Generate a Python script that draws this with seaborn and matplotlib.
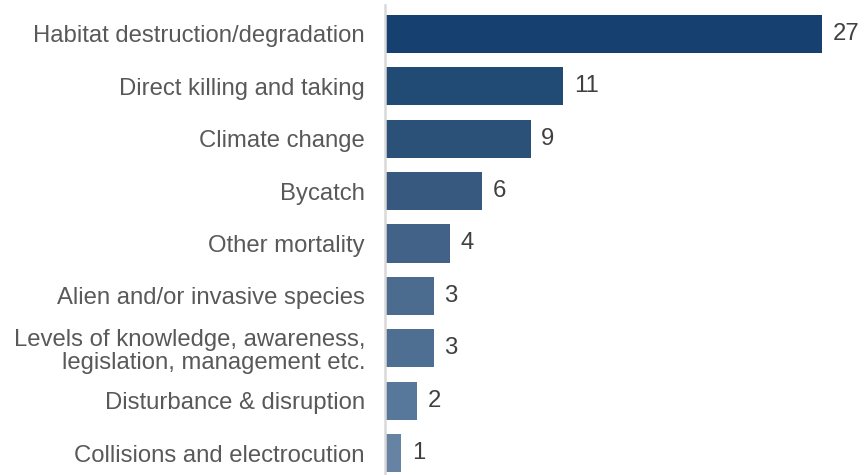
import matplotlib
matplotlib.use("Agg")
import matplotlib.pyplot as plt
import seaborn as sns
import pandas as pd

threats = [
    "Habitat destruction/degradation",
    "Direct killing and taking",
    "Climate change",
    "Bycatch",
    "Other mortality",
    "Alien and/or invasive species",
    "Levels of knowledge, awareness,\nlegislation, management etc.",
    "Disturbance & disruption",
    "Collisions and electrocution",
]
counts = [27, 11, 9, 6, 4, 3, 3, 2, 1]
bar_colors = ["#16406f", "#214a75", "#2c5179", "#37597f", "#426387",
              "#4b6b8f", "#4e6e92", "#57789b", "#6683a3"]

df = pd.DataFrame({"threat": threats, "count": counts})

sns.set_theme(style="white")
plt.rcParams["font.family"] = ["Liberation Sans", "DejaVu Sans"]

fig = plt.figure(figsize=(8.67, 4.75), dpi=100)
ax = fig.add_axes([385 / 867, 0, 1 - 385 / 867, 1 - 5 / 475])

sns.barplot(data=df, x="count", y="threat", hue="threat", palette=bar_colors,
            legend=False, width=0.73, saturation=1, linewidth=0, ax=ax, orient="h")

ax.set_xlim(0, 29.75)
ax.set_ylim(8.42, -0.553)
ax.set_xlabel("")
ax.set_ylabel("")
ax.set_xticks([])

for s in ["top", "right", "bottom"]:
    ax.spines[s].set_visible(False)
ax.spines["left"].set_color("#d9d9d9")
ax.spines["left"].set_linewidth(1.8)

ax.tick_params(axis="y", length=0, pad=14.4, labelsize=17.2, labelcolor="#595959")
for lbl in ax.get_yticklabels():
    lbl.set_horizontalalignment("right")
    lbl.set_multialignment("right")
    lbl.set_linespacing(1.1)

for i, v in enumerate(counts):
    ax.text(v + 0.65, i, str(v), va="center", ha="left", fontsize=17.2, color="#404040")

fig.savefig("out.png", dpi=100)
